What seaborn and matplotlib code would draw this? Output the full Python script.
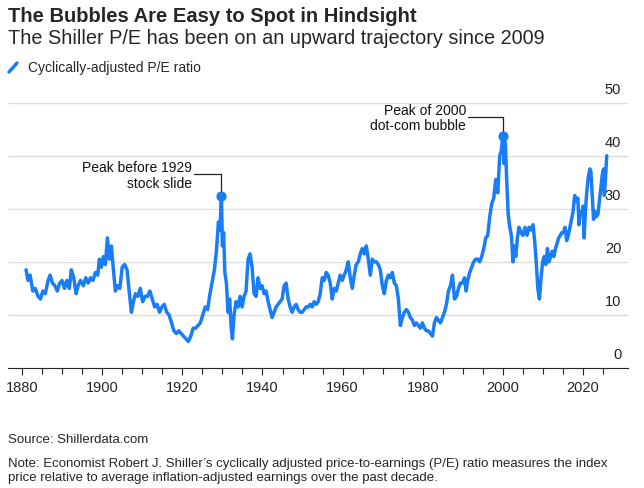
import numpy as np
import pandas as pd
import matplotlib
matplotlib.use("Agg")
import matplotlib.pyplot as plt
import seaborn as sns

sns.set_style("white", {"xtick.bottom": True})
plt.rcParams['font.family'] = ['Liberation Sans', 'DejaVu Sans']

# approximate Shiller CAPE
years = [1881.0, 1881.5, 1882.0, 1882.7, 1883.3, 1884.0, 1884.6, 1885.2, 1885.8, 1886.5, 1887.0, 1887.6,
         1888.2, 1888.8, 1889.4, 1890.0, 1890.6, 1891.2, 1891.8, 1892.3, 1892.9, 1893.5, 1894.0, 1894.6,
         1895.3, 1895.9, 1896.5, 1897.1, 1897.7, 1898.3, 1898.9, 1899.3, 1899.8, 1900.3, 1900.8, 1901.3,
         1901.8, 1902.3, 1902.8, 1903.3, 1903.8, 1904.4, 1905.0, 1905.6, 1906.2, 1906.8, 1907.3, 1907.8,
         1908.3, 1908.9, 1909.5, 1910.1, 1910.7, 1911.3, 1911.9, 1912.5, 1913.1, 1913.7, 1914.3, 1914.9,
         1915.5, 1916.1, 1916.7, 1917.3, 1917.9, 1918.5, 1919.1, 1919.7, 1920.3, 1920.9, 1921.5, 1922.1,
         1922.7, 1923.3, 1923.9, 1924.5, 1925.1, 1925.7, 1926.3, 1926.9, 1927.5, 1928.0, 1928.5, 1929.0,
         1929.4, 1929.75, 1930.0, 1930.3, 1930.6, 1931.0, 1931.4, 1931.8, 1932.2, 1932.5, 1932.9, 1933.4,
         1933.9, 1934.4, 1934.9, 1935.4, 1935.9, 1936.4, 1936.9, 1937.4, 1937.9, 1938.4, 1938.9, 1939.4,
         1939.9, 1940.4, 1940.9, 1941.4, 1941.9, 1942.4, 1942.9, 1943.4, 1943.9, 1944.4, 1944.9, 1945.4,
         1945.9, 1946.4, 1946.9, 1947.4, 1947.9, 1948.4, 1948.9, 1949.4, 1949.9, 1950.4, 1950.9, 1951.4,
         1951.9, 1952.4, 1952.9, 1953.4, 1953.9, 1954.4, 1954.9, 1955.4, 1955.9, 1956.4, 1956.9, 1957.4,
         1957.9, 1958.4, 1958.9, 1959.4, 1959.9, 1960.4, 1960.9, 1961.4, 1961.9, 1962.4, 1962.9, 1963.4,
         1963.9, 1964.4, 1964.9, 1965.4, 1965.9, 1966.4, 1966.9, 1967.4, 1967.9, 1968.4, 1968.9, 1969.4,
         1969.9, 1970.4, 1970.9, 1971.4, 1971.9, 1972.4, 1972.9, 1973.4, 1973.9, 1974.4, 1974.9, 1975.4,
         1975.9, 1976.4, 1976.9, 1977.4, 1977.9, 1978.4, 1978.9, 1979.4, 1979.9, 1980.4, 1980.9, 1981.4,
         1981.9, 1982.4, 1982.9, 1983.4, 1983.9, 1984.4, 1984.9, 1985.4, 1985.9, 1986.4, 1986.9, 1987.4,
         1987.7, 1987.9, 1988.4, 1988.9, 1989.4, 1989.9, 1990.4, 1990.8, 1991.2, 1991.7, 1992.2, 1992.7,
         1993.2, 1993.7, 1994.2, 1994.7, 1995.2, 1995.7, 1996.2, 1996.7, 1997.2, 1997.7, 1998.2, 1998.7,
         1999.2, 1999.6, 1999.95, 2000.3, 2000.6, 2000.9, 2001.3, 2001.7, 2002.1, 2002.5, 2002.8, 2003.2,
         2003.6, 2004.0, 2004.5, 2005.0, 2005.5, 2006.0, 2006.5, 2007.0, 2007.5, 2007.9, 2008.3, 2008.7,
         2009.1, 2009.5, 2009.9, 2010.3, 2010.7, 2011.1, 2011.5, 2011.9, 2012.3, 2012.7, 2013.1, 2013.5,
         2013.9, 2014.3, 2014.7, 2015.1, 2015.5, 2015.9, 2016.3, 2016.7, 2017.1, 2017.5, 2017.9, 2018.3,
         2018.7, 2018.95, 2019.3, 2019.7, 2020.0, 2020.25, 2020.6, 2020.9, 2021.3, 2021.7, 2021.95, 2022.3,
         2022.6, 2022.9, 2023.3, 2023.7, 2024.0, 2024.4, 2024.8, 2025.1, 2025.3, 2025.6, 2025.9]
cape = [18.5, 16.5, 17.5, 14.5, 15.0, 13.5, 13.0, 14.5, 14.0, 16.5, 17.5, 16.0,
        15.5, 14.5, 16.0, 16.5, 15.0, 16.5, 15.0, 18.5, 17.0, 14.0, 15.5, 16.5,
        15.5, 17.0, 16.0, 17.0, 16.5, 18.0, 17.5, 20.5, 19.0, 21.0, 19.5, 24.5,
        20.5, 23.0, 18.5, 14.5, 15.5, 15.0, 19.0, 19.5, 18.5, 14.0, 10.5, 12.5,
        14.0, 13.5, 15.0, 12.5, 13.5, 13.5, 14.5, 13.0, 11.5, 12.0, 10.5, 11.5,
        12.0, 10.5, 10.0, 8.5, 7.0, 6.5, 7.0, 6.5, 6.0, 5.5, 5.0, 6.0,
        7.5, 7.5, 8.0, 8.5, 10.0, 11.5, 11.0, 14.0, 16.5, 18.5, 22.0, 27.5,
        26.0, 32.5, 23.0, 25.5, 18.0, 16.0, 10.5, 13.0, 7.5, 5.5, 10.0, 12.5,
        11.5, 13.5, 11.5, 13.5, 14.5, 20.5, 21.5, 19.0, 14.0, 13.5, 17.0, 15.0,
        15.5, 14.0, 14.5, 12.5, 11.0, 9.5, 10.5, 11.5, 12.0, 12.5, 13.0, 15.5,
        16.0, 13.0, 11.5, 10.5, 11.5, 12.0, 11.0, 10.5, 10.5, 11.0, 11.5, 11.5,
        12.0, 11.5, 12.5, 12.0, 12.5, 14.0, 17.0, 16.5, 18.0, 17.5, 16.0, 13.0,
        15.0, 14.5, 16.0, 17.5, 16.5, 17.5, 18.5, 20.0, 17.0, 15.0, 17.5, 19.5,
        20.0, 21.5, 22.5, 21.5, 23.0, 20.5, 17.5, 20.5, 20.0, 20.0, 19.5, 18.5,
        15.5, 14.0, 16.5, 17.5, 17.0, 18.0, 16.0, 15.5, 13.0, 8.0, 9.5, 10.5,
        11.0, 10.5, 9.5, 9.0, 8.0, 8.5, 8.0, 7.5, 8.5, 7.5, 7.0, 7.0,
        6.5, 6.0, 8.5, 9.5, 9.0, 8.5, 9.5, 10.5, 12.0, 14.5, 15.5, 17.5,
        15.0, 13.0, 13.5, 15.0, 16.0, 16.0, 17.0, 14.5, 16.5, 18.0, 19.0, 20.0,
        20.5, 20.5, 20.0, 21.0, 22.5, 24.5, 25.0, 28.5, 31.0, 32.0, 35.5, 33.0,
        40.0, 41.0, 43.8, 38.5, 42.5, 36.0, 29.0, 26.5, 25.0, 20.0, 23.0, 21.0,
        24.5, 26.5, 25.5, 25.0, 26.5, 25.0, 26.5, 26.0, 27.0, 24.0, 20.0, 15.0,
        13.0, 17.0, 20.0, 21.0, 19.5, 22.5, 20.0, 21.0, 22.0, 21.0, 22.5, 23.5,
        24.5, 25.0, 25.5, 25.5, 26.5, 24.0, 25.0, 26.5, 28.0, 29.5, 32.5, 31.5,
        32.0, 27.0, 29.5, 29.0, 30.5, 24.5, 30.0, 33.0, 36.0, 37.5, 37.0, 32.0,
        28.0, 29.5, 28.5, 29.0, 31.0, 33.5, 36.5, 37.5, 32.5, 36.0, 40.0]

peak_years = [1929.75, 1999.95]
peak_values = [32.5, 43.8]
peak_labels = ["Peak before 1929\nstock slide", "Peak of 2000\ndot-com bubble"]

blue = "#1a7df8"
df = pd.DataFrame({"year": years, "cape": cape})

fig = plt.figure(figsize=(6.44, 4.89), dpi=100)
ax = fig.add_axes([8 / 644, 1 - 369 / 489, 620 / 644, 276 / 489])
sns.lineplot(data=df, x="year", y="cape", ax=ax, color=blue, linewidth=2.5)
ax.scatter(peak_years, peak_values, s=40, color=blue, zorder=5)

ax.set_xlim(1876.5, 2031.2)
ax.set_ylim(0, 52)
ax.set_xlabel("")
ax.set_ylabel("")
for s in ["top", "right", "left"]:
    ax.spines[s].set_visible(False)
ax.spines["bottom"].set_color("#222222")
ax.set_yticks([])
for v in [10, 20, 30, 40, 50]:
    ax.axhline(v, color="#dddddd", linewidth=1, zorder=0)
for v in [0, 10, 20, 30, 40, 50]:
    ax.text(2029.5, v + 1.3, str(v), ha="right", va="bottom", fontsize=10.5, color="#222222")

ax.set_xticks(np.arange(1880, 2021, 20))
ax.set_xticks(np.arange(1880, 2026, 5), minor=True)
ax.tick_params(axis="x", which="both", bottom=True, direction="out", color="#222222",
               labelsize=10.5, pad=4, width=0.8)
ax.tick_params(axis="x", which="major", length=5)
ax.tick_params(axis="x", which="minor", length=4)

# annotations with elbow connectors
ann_text_x = [1922.5, 1990.8]
ann_line_y = [36.5, 47.3]
for px, pv, lab, tx, ly in zip(peak_years, peak_values, peak_labels, ann_text_x, ann_line_y):
    ax.plot([tx + 0.4, px, px], [ly, ly, pv], color="#222222", linewidth=0.9)
    ax.text(tx, ly - 0.1, lab, ha="right", va="center", fontsize=10, color="#111111",
            linespacing=1.15)

fig.text(8 / 644, 1 - 16 / 489, "The Bubbles Are Easy to Spot in Hindsight", fontsize=14.5,
         fontweight="bold", va="center")
fig.text(8 / 644, 1 - 39 / 489, "The Shiller P/E has been on an upward trajectory since 2009",
         fontsize=14.3, va="center")
fig.add_artist(plt.Line2D([9 / 644, 17 / 644], [1 - 73 / 489, 1 - 64 / 489], color=blue, linewidth=2.5))
fig.text(28 / 644, 1 - 68 / 489, "Cyclically-adjusted P/E ratio", fontsize=10, va="center")

fig.text(8 / 644, 1 - 440 / 489, "Source: Shillerdata.com", fontsize=9.5, va="center")
fig.text(8 / 644, 1 - 471 / 489,
         "Note: Economist Robert J. Shiller\u2019s cyclically adjusted price-to-earnings (P/E) ratio measures the index\n"
         "price relative to average inflation-adjusted earnings over the past decade.",
         fontsize=9.5, va="center", linespacing=1.3)

fig.savefig("out.png", dpi=100)
